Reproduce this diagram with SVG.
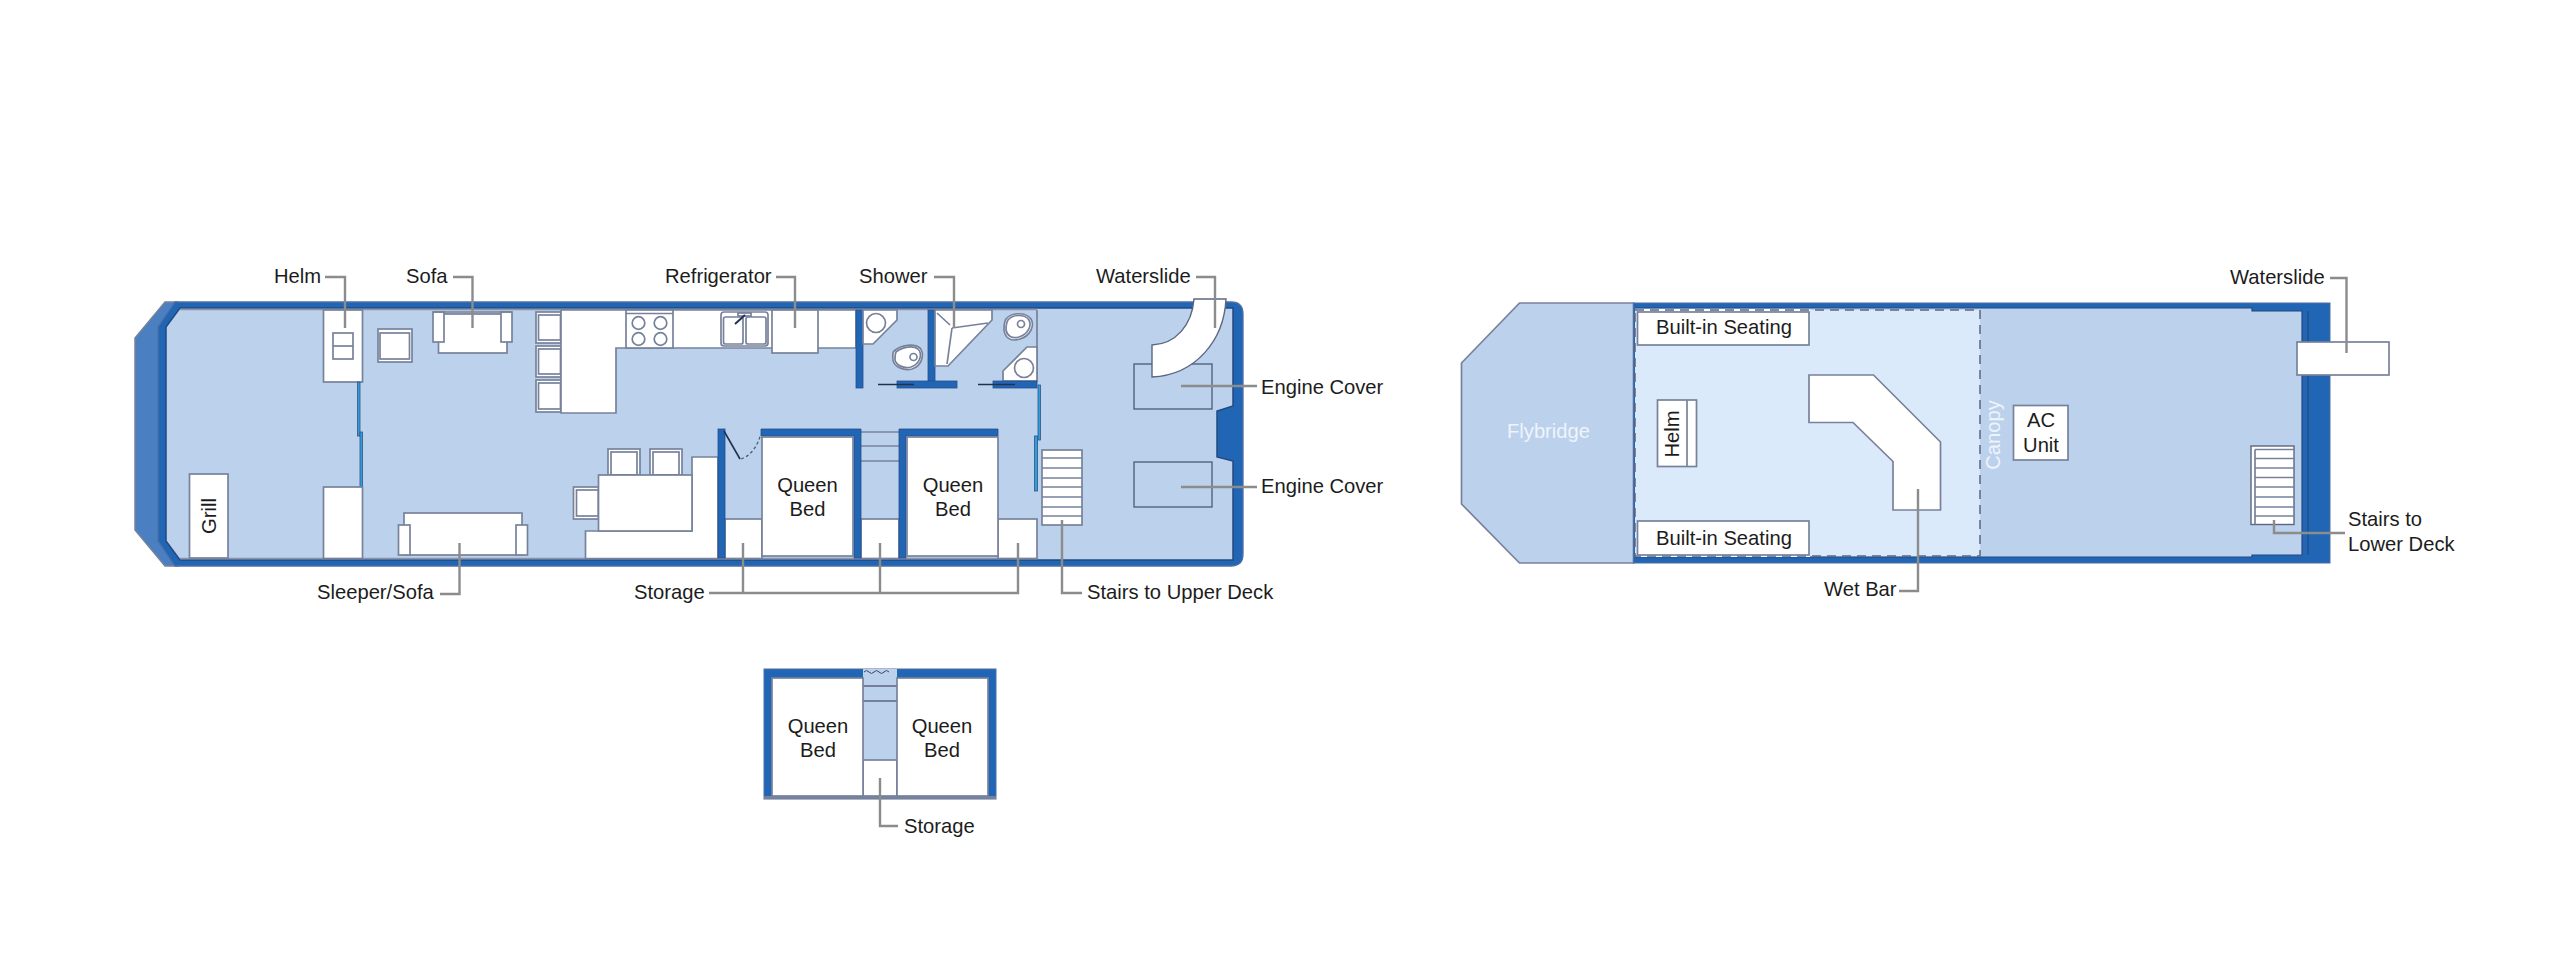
<svg xmlns="http://www.w3.org/2000/svg" width="2560" height="961" viewBox="0 0 2560 961">
<style>
text{font-family:"Liberation Sans",Arial,sans-serif;font-size:20.2px;fill:#1c1c1c}
.c{text-anchor:middle}
.pale{fill:#eef4fb}
.w{fill:#fff;stroke:#77829a;stroke-width:1.7}
.wd{fill:#fff;stroke:#5c6680;stroke-width:1.4}
.o{fill:none;stroke:#77829a;stroke-width:1.7}
.hull{fill:#2166b5}
.bl{fill:#bcd1ec}
.bg{fill:#bcd1ec;stroke:#77829a;stroke-width:1.7}
.wall{fill:#2166b5;stroke:#2a4f8a;stroke-width:.8}
.glass{fill:#2f9fe0;stroke:#35507f;stroke-width:.8}
.dk{stroke:#22304f;stroke-width:1.6;fill:none}
.lead{fill:none;stroke:#8c8c8c;stroke-width:2.4}
</style>

<g id="lower-deck">
  <g id="hull-lower">
    <polygon points="165,302 178,302 178,566 165,566 135,530 135,338" fill="#4a7fc1" stroke="#77829a" stroke-width="1.500"/>
    <path class="hull" d="M175,302H1231Q1243,302 1243,314V554Q1243,566 1231,566H175L158,541V327Z" stroke="#4f6ea3" stroke-width="1.300"/>
    <polygon class="bl" points="180,308 1233,308 1233,406 1217,411 1217,457 1233,461 1233,560 180,560 166,541 166,327" stroke="#24487f" stroke-width="1.500"/>
    <line x1="180" y1="309.500" x2="1037" y2="309.500" stroke="#8a94a8" stroke-width="1.500"/>
    <line x1="180" y1="558.500" x2="1037" y2="558.500" stroke="#8a94a8" stroke-width="1.500"/>
  </g>
  <g id="helm-lower">
    <rect class="w" x="323.500" y="310" width="39" height="72"/>
    <rect class="o" x="333" y="333" width="20" height="26"/>
    <line class="o" x1="333" y1="346" x2="353" y2="346"/>
    <rect class="glass" x="357.500" y="382" width="2.500" height="54"/>
    <rect class="glass" x="360" y="432" width="2.500" height="55"/>
    <rect class="w" x="323.500" y="487" width="39" height="71.500"/>
  </g>
  <g id="chair-lower">
    <rect class="w" x="378" y="329" width="34" height="33"/>
    <rect class="o" x="380" y="333" width="29.500" height="26"/>
  </g>
  <g id="sofa">
    <rect class="w" x="438.500" y="314" width="68.500" height="39"/>
    <rect class="w" x="433" y="312" width="11" height="30"/>
    <rect class="w" x="501" y="312" width="11" height="30"/>
    <line class="o" x1="433" y1="312" x2="512" y2="312"/>
  </g>
  <g id="grill">
    <rect class="w" x="189.500" y="474" width="38.500" height="84"/>
    <text class="c" transform="translate(216,516) rotate(-90)">Grill</text>
  </g>
  <g id="sleeper-sofa">
    <rect class="w" x="404" y="513" width="118" height="42"/>
    <rect class="w" x="398.500" y="525" width="11.500" height="30"/>
    <rect class="w" x="516" y="525" width="11.500" height="30"/>
  </g>
  <g id="kitchen">
    <rect class="w" x="536" y="312" width="25" height="31"/><rect class="o" x="538.500" y="315" width="22" height="25"/>
    <rect class="w" x="536" y="346" width="25" height="31"/><rect class="o" x="538.500" y="349" width="22" height="25"/>
    <rect class="w" x="536" y="380" width="25" height="32"/><rect class="o" x="538.500" y="383" width="22" height="26"/>
    <path class="w" d="M561,310H856V348H616V413H561Z"/>
    <rect class="w" x="626" y="310" width="47" height="38"/>
    <line class="o" x1="626" y1="313.500" x2="673" y2="313.500"/>
    <circle class="o" cx="638.500" cy="323" r="6.300"/><circle class="o" cx="660.500" cy="323" r="6.300"/>
    <circle class="o" cx="638.500" cy="339" r="6.300"/><circle class="o" cx="660.500" cy="339" r="6.300"/>
    <rect class="o" x="721" y="312" width="47" height="34" rx="3"/>
    <rect class="o" x="723.500" y="317" width="19.500" height="27" rx="2"/>
    <rect class="o" x="746" y="317" width="20" height="27" rx="2"/>
    <rect class="w" x="738" y="313" width="13" height="3"/>
    <line x1="735" y1="324" x2="745" y2="315" stroke="#22304f" stroke-width="2"/>
  </g>
  <rect id="refrigerator" class="w" x="772" y="310" width="46" height="43"/>
  <g id="dining">
    <rect class="w" x="608" y="449" width="32" height="26"/><rect class="o" x="611" y="452" width="26" height="23"/>
    <rect class="w" x="650" y="449" width="32" height="26"/><rect class="o" x="653" y="452" width="26" height="23"/>
    <rect class="w" x="573.500" y="487" width="25" height="32"/><rect class="o" x="576.500" y="490" width="22" height="26"/>
    <path class="w" d="M585.500,558.500V531H692V457H718V558.500Z"/>
    <rect class="w" x="598.500" y="475" width="93.500" height="56"/>
  </g>
  <g id="bath-forward">
    <rect class="wall" x="856" y="310" width="7" height="78"/>
    <polygon class="w" points="863,310 897,310 897,320 873,344 863,344"/>
    <circle class="o" cx="876" cy="323" r="9.500"/>
    <path class="o" d="M894,351C901,345 914,343 920,348C925,354 922,366 912,369C904,371 894,367 893,360C893,356 892,353 894,351Z" style="fill:#fff"/>
    <path class="o" d="M896,352C902,347 913,345 918,349C923,354 920,364 911,367C904,369 896,365 895,360C895,357 895,354 896,352Z"/>
    <circle class="o" cx="913.500" cy="357" r="3.500"/>
    <rect class="wall" x="928" y="310" width="7" height="71"/>
    <rect class="wall" x="897" y="381" width="60" height="7"/>
    <line class="dk" x1="878" y1="384.500" x2="914" y2="384.500"/>
  </g>
  <g id="shower">
    <polygon class="w" points="935,310 992,310 992,320 948,366 935,366"/>
    <path class="o" d="M937,313L950,325M952,328L988,323M952,328L947,364"/>
  </g>
  <g id="bath-aft">
    <line class="o" x1="1037" y1="310" x2="1037" y2="381"/>
    <path class="o" d="M1006,319C1012,312 1026,312 1031,319C1035,326 1030,336 1020,339C1011,342 1005,338 1004,330C1004,325 1004,322 1006,319Z" style="fill:#fff"/>
    <path class="o" d="M1008,320C1013,314 1025,314 1029,320C1032,326 1028,334 1019,337C1012,339 1007,336 1006,330C1006,326 1006,323 1008,320Z"/>
    <circle class="o" cx="1021" cy="324" r="3.500"/>
    <polygon class="w" points="1037,347 1027,347 1003,371 1003,381 1037,381"/>
    <circle class="o" cx="1024" cy="368" r="9.500"/>
    <rect class="wall" x="993" y="381" width="44" height="7"/>
    <line class="dk" x1="978" y1="384.500" x2="1015" y2="384.500"/>
    <rect class="glass" x="1038" y="385" width="2.500" height="55"/>
    <rect class="glass" x="1034.500" y="436" width="3" height="55"/>
  </g>
  <g id="stairs-lower">
    <rect class="w" x="1042" y="450" width="40" height="75"/>
    <path class="o" d="M1042,458H1082M1042,468H1082M1042,478H1082M1042,487H1082M1042,497H1082M1042,507H1082M1042,516H1082"/>
  </g>
  <g id="cabins">
    <rect class="w" x="725" y="519" width="37" height="39.500"/>
    <rect class="w" x="861" y="519" width="38" height="39.500"/>
    <rect class="w" x="998" y="519" width="39" height="39.500"/>
    <path class="o" d="M861,432H899M861,446H899M861,461H899"/>
    <rect class="wall" x="718" y="429" width="7" height="129"/>
    <path class="wall" d="M761,429H861V558H854V436H761Z"/>
    <path class="wall" d="M899,558V429H998V436H906V558Z"/>
    <line class="dk" x1="724" y1="431" x2="740" y2="459"/>
    <path d="M741,459C752,455 757,446 761,434" fill="none" stroke="#4a5a7a" stroke-width="1.300" stroke-dasharray="3 2.500"/>
  </g>
  <g id="queen-bed-1">
    <rect class="w" x="762" y="437" width="91" height="119"/>
    <text class="c" x="807.500" y="492">Queen</text><text class="c" x="807.500" y="516">Bed</text>
  </g>
  <g id="queen-bed-2">
    <rect class="w" x="907" y="437" width="91" height="119"/>
    <text class="c" x="953" y="492">Queen</text><text class="c" x="953" y="516">Bed</text>
  </g>
  <g id="engine-cover-1"><rect x="1134" y="364" width="78" height="45" fill="none" stroke="#4a5a7a" stroke-width="1.300"/></g>
  <g id="engine-cover-2"><rect x="1134" y="462" width="78" height="45" fill="none" stroke="#4a5a7a" stroke-width="1.300"/></g>
  <path id="waterslide-lower" class="wd" d="M1194,299H1226C1224,340 1196,375 1152,377V345C1176,344 1192,325 1194,299Z"/>
</g>

<g id="bunk-room">
  <rect x="764" y="669" width="232" height="130" class="hull" stroke="#4f6ea3" stroke-width="1"/>
  <rect class="bl" x="863" y="669" width="34" height="91"/>
  <path class="o" d="M863,686H897M863,701H897" style="stroke:#5c6680"/>
  <path d="M864,672q2.500,-3 5,0t5,0t5,0t5,0t5,0" fill="none" stroke="#3a4560" stroke-width="1"/>
  <rect class="w" x="863" y="760" width="34" height="36"/>
  <rect x="764" y="796" width="232" height="3" fill="#77829a"/>
  <g id="queen-bed-3">
    <rect class="w" x="772" y="678" width="91" height="118"/>
    <text class="c" x="818" y="733">Queen</text><text class="c" x="818" y="757">Bed</text>
  </g>
  <g id="queen-bed-4">
    <rect class="w" x="897" y="678" width="91" height="118"/>
    <text class="c" x="942" y="733">Queen</text><text class="c" x="942" y="757">Bed</text>
  </g>
</g>

<g id="upper-deck">
  <polygon id="flybridge" class="bg" points="1519.500,303 1633.500,303 1633.500,563 1519.500,563 1461.500,504 1461.500,363"/>
  <g id="deck">
    <rect class="hull" x="1633.500" y="303" width="696.500" height="260" stroke="#4f6ea3" stroke-width="1"/>
    <rect class="bl" x="1635" y="308" width="617" height="249"/>
    <rect class="bl" x="2252" y="311" width="50" height="244"/>
    <line x1="1635" y1="308" x2="2252" y2="308" stroke="#24487f" stroke-width="1.200"/>
    <line x1="1635" y1="557" x2="2252" y2="557" stroke="#24487f" stroke-width="1.200"/>
    <path d="M2252,308V311H2302V555H2252V557" fill="none" stroke="#24487f" stroke-width="1.200"/>
    <line x1="2308" y1="311" x2="2308" y2="555" stroke="#24487f" stroke-width="1.200"/>
  </g>
  <rect id="canopy-area" x="1635" y="310" width="345" height="246" fill="#dbeafa"/>
  <path d="M1636,310H1810M1636,556H1810" fill="none" stroke="#fff" stroke-width="2"/>
  <rect x="1635" y="310" width="345" height="246" fill="none" stroke="#5c6680" stroke-width="1.500" stroke-dasharray="9 6"/>
  <g id="seating-1">
    <rect class="w" x="1637.500" y="312" width="171.500" height="33"/>
    <text class="c" x="1724" y="334">Built-in Seating</text>
  </g>
  <g id="seating-2">
    <rect class="w" x="1637.500" y="521" width="171.500" height="34"/>
    <text class="c" x="1724" y="545">Built-in Seating</text>
  </g>
  <g id="helm-upper">
    <rect class="w" x="1657.500" y="400" width="39" height="66.500"/>
    <line class="o" x1="1687" y1="400" x2="1687" y2="466.500"/>
    <text class="c" transform="translate(1679,434) rotate(-90)">Helm</text>
  </g>
  <polygon id="wet-bar" class="w" points="1809,375 1873.500,375 1940.500,442 1940.500,510 1893,510 1893,461.500 1853,422.500 1809,422.500"/>
  <g id="ac-unit">
    <rect class="w" x="2013.500" y="405.500" width="54.500" height="54.500"/>
    <text class="c" x="2041" y="427">AC</text><text class="c" x="2041" y="452">Unit</text>
  </g>
  <g id="stairs-upper">
    <rect class="wd" x="2251" y="446" width="43" height="78.500"/>
    <line class="o" x1="2255" y1="449.500" x2="2255" y2="524.500"/>
    <path class="o" d="M2255,449.500H2294M2255,458.500H2294M2255,468H2294M2255,477.500H2294M2255,487H2294M2255,497H2294M2255,507H2294M2255,516H2294"/>
  </g>
  <rect id="waterslide-upper" class="w" x="2297" y="342" width="92" height="33"/>
  <text class="pale c" x="1548.500" y="438">Flybridge</text>
  <text class="pale c" transform="translate(2000,435) rotate(-90)">Canopy</text>
</g>

<g id="connectors">
  <path class="lead" d="M325,277H345V328"/>
  <path class="lead" d="M453,277H472.500V328"/>
  <path class="lead" d="M776,277H795V328"/>
  <path class="lead" d="M934,277H954V328"/>
  <path class="lead" d="M1196,277H1215V328"/>
  <path class="lead" d="M1181,386H1257"/>
  <path class="lead" d="M1181,487H1257"/>
  <path class="lead" d="M1062,520V593H1082"/>
  <path class="lead" d="M459.500,543V594H440"/>
  <path class="lead" d="M709,593H1018V543M743,593V543M880,593V543"/>
  <path class="lead" d="M880,778V826H898"/>
  <path class="lead" d="M2330,278H2346.500V353"/>
  <path class="lead" d="M2274,520V533H2345"/>
  <path class="lead" d="M1918,489V591H1899"/>
</g>

<g id="labels">
  <text x="274" y="283">Helm</text>
  <text x="406" y="283">Sofa</text>
  <text x="665" y="283">Refrigerator</text>
  <text x="859" y="283">Shower</text>
  <text x="1096" y="283">Waterslide</text>
  <text x="1261" y="394">Engine Cover</text>
  <text x="1261" y="493">Engine Cover</text>
  <text x="317" y="599">Sleeper/Sofa</text>
  <text x="634" y="599">Storage</text>
  <text x="1087" y="599">Stairs to Upper Deck</text>
  <text x="904" y="833">Storage</text>
  <text x="2230" y="284">Waterslide</text>
  <text x="2348" y="526">Stairs to</text>
  <text x="2348" y="551">Lower Deck</text>
  <text x="1824" y="596">Wet Bar</text>
</g>
</svg>
